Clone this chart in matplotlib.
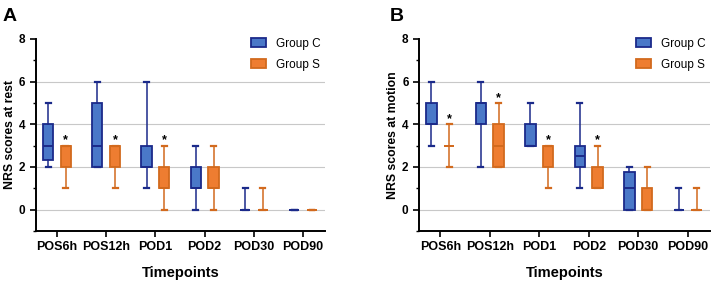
import matplotlib.pyplot as plt
import numpy as np

timepoints = ['POS6h', 'POS12h', 'POD1', 'POD2', 'POD30', 'POD90']

# rest: (whislo, q1, med, q3, whishi)
rest_c = [(2, 2.3, 3, 4, 5), (2, 2, 3, 5, 6), (1, 2, 2, 3, 6),
          (0, 1, 1, 2, 3), (0, 0, 0, 0, 1), (0, 0, 0, 0, 0)]
rest_s = [(1, 2, 3, 3, 3), (1, 2, 3, 3, 3), (0, 1, 1, 2, 3),
          (0, 1, 1, 2, 3), (0, 0, 0, 0, 1), (0, 0, 0, 0, 0)]
rest_star = [True, True, True, False, False, False]

# motion
motion_c = [(3, 4, 4, 5, 6), (2, 4, 5, 5, 6), (3, 3, 3, 4, 5),
            (1, 2, 2.5, 3, 5), (0, 0, 1, 1.75, 2), (0, 0, 0, 0, 1)]
motion_s = [(2, 3, 3, 3, 4), (2, 2, 3, 4, 5), (1, 2, 3, 3, 3),
            (1, 1, 1, 2, 3), (0, 0, 0, 1, 2), (0, 0, 0, 0, 1)]
motion_star = [True, True, True, True, False, False]

blue_fill, blue_edge = '#4a78c8', '#1b2a8a'
orange_fill, orange_edge = '#ee7d31', '#d26a1e'

plt.rcParams['font.family'] = ['Liberation Sans', 'DejaVu Sans']


def stats_of(rows):
    return [dict(whislo=r[0], q1=r[1], med=r[2], q3=r[3], whishi=r[4], fliers=[]) for r in rows]


def draw(ax, c, s, stars, ylabel):
    x = np.arange(len(timepoints))
    for rows, off, fc, ec in [(c, -0.18, blue_fill, blue_edge), (s, 0.18, orange_fill, orange_edge)]:
        ax.bxp(stats_of(rows), positions=x + off, widths=0.21, capwidths=0.1,
               patch_artist=True, showfliers=False,
               boxprops=dict(facecolor=fc, edgecolor=ec, linewidth=1.3),
               medianprops=dict(color=ec, linewidth=1.4),
               whiskerprops=dict(color=ec, linewidth=1.1),
               capprops=dict(color=ec, linewidth=1.6), zorder=3)
    for i, st in enumerate(stars):
        if st:
            ax.text(x[i] + 0.18, s[i][4] - 0.05, '*', ha='center', va='bottom',
                    fontsize=9, fontweight='bold', zorder=4)
    ax.set_xlim(-0.43, 5.45)
    ax.set_ylim(-1, 8)
    ax.set_yticks([0, 2, 4, 6, 8])
    ax.set_yticks([-1, 1, 3, 5, 7], minor=True)
    for yv in [0, 2, 4, 6]:
        ax.axhline(yv, color='#c8c8c8', linewidth=0.8, zorder=1)
    ax.set_xticks(x)
    ax.set_xticklabels(timepoints, fontsize=9, fontweight='bold')
    for lbl in ax.get_yticklabels():
        lbl.set_fontweight('bold')
        lbl.set_fontsize(8.5)
    ax.tick_params(axis='both', width=1.2, length=4)
    ax.tick_params(axis='y', which='minor', width=1, length=2.5)
    ax.spines['top'].set_visible(False)
    ax.spines['right'].set_visible(False)
    ax.spines['left'].set_linewidth(1.4)
    ax.spines['bottom'].set_linewidth(1.4)
    ax.set_ylabel(ylabel, fontsize=8.8, fontweight='bold', labelpad=2)
    ax.set_xlabel('Timepoints', fontsize=10.5, fontweight='bold', labelpad=9)
    handles = [plt.Rectangle((0, 0), 1, 1, facecolor=blue_fill, edgecolor=blue_edge, linewidth=1.3),
               plt.Rectangle((0, 0), 1, 1, facecolor=orange_fill, edgecolor=orange_edge, linewidth=1.3)]
    ax.legend(handles, ['Group C', 'Group S'], loc='upper right', frameon=False,
              fontsize=8.5, handlelength=1.3, handleheight=0.8, labelspacing=0.75,
              handletextpad=0.8, bbox_to_anchor=(1.02, 1.06))
    return ax


fig = plt.figure(figsize=(7.15, 2.84), dpi=100)
ax1 = fig.add_axes([0.050, 0.187, 0.405, 0.676])
ax2 = fig.add_axes([0.586, 0.187, 0.407, 0.676])
draw(ax1, rest_c, rest_s, rest_star, 'NRS scores at rest')
draw(ax2, motion_c, motion_s, motion_star, 'NRS scores at motion')
fig.text(0.003, 0.925, 'A', fontsize=14, fontweight='bold')
fig.text(0.545, 0.925, 'B', fontsize=14, fontweight='bold')

plt.savefig('out.png', dpi=100)
plt.close()
